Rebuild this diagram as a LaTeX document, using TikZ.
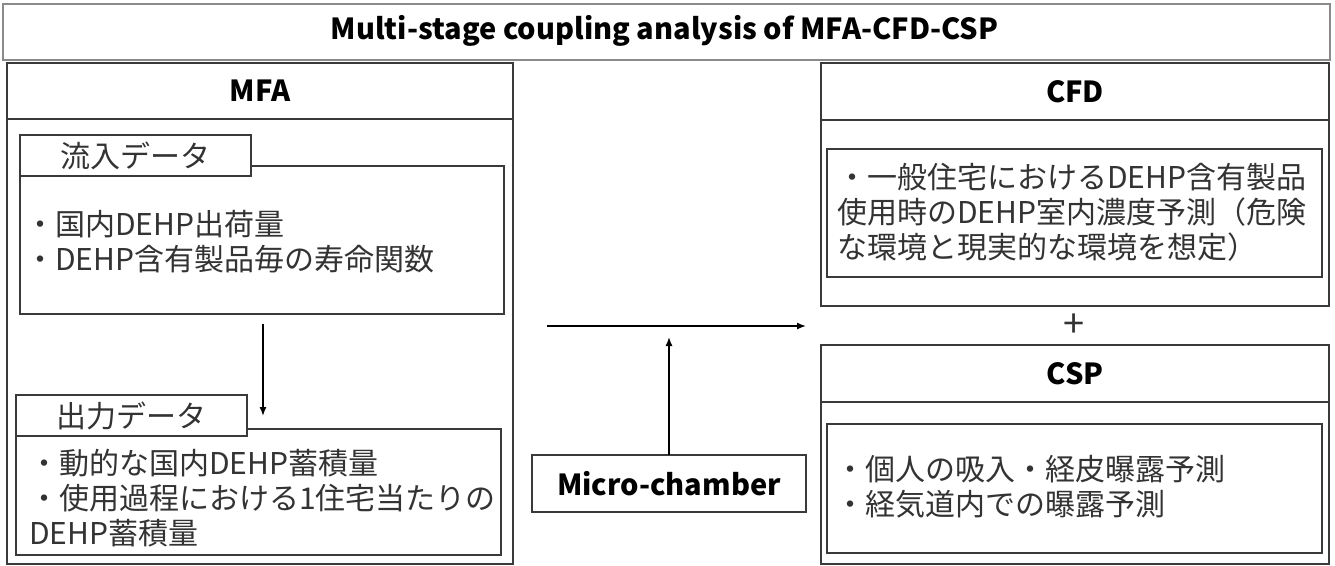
\documentclass[tikz,border=0pt]{standalone}
\usepackage{fontspec}
\setmainfont{Noto Sans CJK JP}
\usetikzlibrary{arrows.meta}
\definecolor{lc}{HTML}{3A3A3A}
\definecolor{tc}{HTML}{333333}
\definecolor{tl}{HTML}{8A8A8A}
\begin{document}
\begin{tikzpicture}[x=1pt,y=-1pt,
  box/.style={draw=lc, line width=1.4pt, inner sep=0pt, outer sep=0pt, fill=white},
  hdr/.style={font=\fontsize{29}{34}\selectfont\bfseries, text=black, inner sep=0pt},
  body/.style={font=\fontsize{30}{35}\selectfont, text=tc, align=left, inner sep=0pt, anchor=west},
  lbl/.style={font=\fontsize{30}{34}\selectfont, text=tc, inner sep=0pt},
  arr/.style={-{Latex[length=9pt,width=7pt]}, line width=1.4pt, draw=black}]
\useasboundingbox (0,0) rectangle (1335,565);
% title
\node[box, draw=tl, line width=1.6pt, minimum width=1327, minimum height=56] (title) at (666.5,32) {};
\node[hdr] (titletext) at (664.5,31) {Multi-stage coupling analysis of MFA-CFD-CSP};
% MFA
\node[box, minimum width=506, minimum height=445] (mfaB) at (260,341.5) {};
\node[box, minimum width=506, minimum height=56] (mfaH) at (260,91) {};
\node[hdr] (mfaT) at (260,91) {MFA};
\node[box, minimum width=484, minimum height=148] (inC) at (262,240) {};
\node[box, minimum width=231, minimum height=41] (inL) at (135.5,155.5) {};
\node[lbl] (inLT) at (inL.center) {流入データ};
\node[body] (inT) at (25,242) {・国内DEHP出荷量\\・DEHP含有製品毎の寿命関数};
\node[box, minimum width=485, minimum height=126] (outC) at (258.5,492) {};
\node[box, minimum width=231, minimum height=41] (outL) at (131.5,415.5) {};
\node[lbl] (outLT) at (outL.center) {出力データ};
\node[body] (outT) at (29,498) {・動的な国内DEHP蓄積量\\・使用過程における1住宅当たりの\\DEHP蓄積量};
% CFD
\node[box, minimum width=508, minimum height=186] (cfdB) at (1075,213) {};
\node[box, minimum width=508, minimum height=57] (cfdH) at (1075,91.5) {};
\node[hdr] (cfdT) at (1075,91.5) {CFD};
\node[box, minimum width=495, minimum height=128] (cfdI) at (1074.5,213) {};
\node[body] (cfdX) at (837,212) {・一般住宅におけるDEHP含有製品\\使用時のDEHP室内濃度予測（危険\\な環境と現実的な環境を想定）};
\node[lbl, font=\fontsize{38}{40}\selectfont] (plus) at (1074,326) {+};
% CSP
\node[box, minimum width=508, minimum height=162] (cspB) at (1075,483) {};
\node[box, minimum width=508, minimum height=57] (cspH) at (1075,373.5) {};
\node[hdr] (cspT) at (1075,373.5) {CSP};
\node[box, minimum width=495, minimum height=129] (cspI) at (1074.5,488.5) {};
\node[body] (cspX) at (835,487) {・個人の吸入・経皮曝露予測\\・経気道内での曝露予測};
% Micro-chamber
\node[box, minimum width=274, minimum height=57] (micro) at (669,483.5) {};
\node[hdr] (microT) at (micro.center) {Micro-chamber};
% connectors
\coordinate (h1) at (547,326);
\coordinate (h2) at (806,326);
\draw[arr, shorten <=10pt, shorten >=13pt] (inC.south -| 263,0) -- (outC.north -| 263,0);
\draw[arr] (h1) -- (h2);
\draw[arr, shorten >=11pt] (micro.north) -- (micro.north |- h1);
\end{tikzpicture}
\end{document}
